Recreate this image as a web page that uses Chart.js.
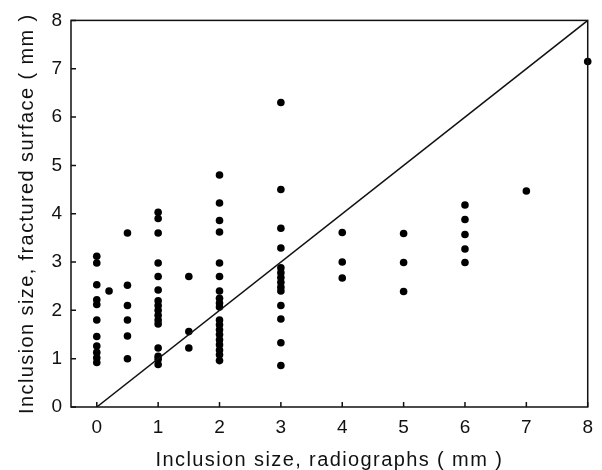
<!DOCTYPE html>
<html>
<head>
<meta charset="utf-8">
<script src="https://cdn.jsdelivr.net/npm/chart.js@4"></script>
<style>
  body { margin: 0; background: #fff; }
</style>
</head>
<body>
<canvas id="chart" width="602" height="470"></canvas>
<script>
// Du lieu doc tu hinh
const pointsX = [
    0, 0, 0, 0, 0, 0, 0, 0, 0, 0, 0,
    0.2,
    0.5, 0.5, 0.5, 0.5, 0.5, 0.5,
    1, 1, 1, 1, 1, 1, 1, 1, 1, 1, 1, 1, 1, 1, 1, 1,
    1.5, 1.5, 1.5,
    2, 2, 2, 2, 2, 2, 2, 2, 2, 2, 2, 2, 2, 2, 2, 2, 2, 2, 2,
    3, 3, 3, 3, 3, 3, 3, 3, 3, 3, 3, 3, 3, 3,
    4, 4, 4,
    5, 5, 5,
    6, 6, 6, 6, 6,
    7,
    8
];
const pointsY = [
    3.12, 2.98, 2.53, 2.22, 2.12, 1.8, 1.46, 1.26, 1.13, 1.02, 0.92,
    2.4,
    3.6, 2.52, 2.1, 1.8, 1.47, 1.0,
    4.03, 3.9, 3.6, 2.98, 2.7, 2.42, 2.2, 2.1, 2.0, 1.9, 1.8, 1.72, 1.22, 1.05, 0.99, 0.88,
    2.7, 1.56, 1.22,
    4.8, 4.22, 3.86, 3.62, 2.98, 2.7, 2.4, 2.25, 2.15, 2.07, 1.8, 1.7, 1.6, 1.5, 1.39, 1.29, 1.18, 1.08, 0.96,
    6.3, 4.5, 3.7, 3.29, 2.88, 2.78, 2.68, 2.58, 2.48, 2.4, 2.1, 1.82, 1.33, 0.86,
    3.61, 3.0, 2.67,
    3.59, 2.99, 2.39,
    4.18, 3.88, 3.57, 3.27, 2.99,
    4.47,
    7.15
];
// Duong y = x
const lineX = [0, 8];
const lineY = [0, 8];

const xTicks = [0, 1, 2, 3, 4, 5, 6, 7, 8];
const yTicks = [0, 1, 2, 3, 4, 5, 6, 7, 8];

const xTitle = 'Inclusion size, radiographs ( mm )';
const yTitle = 'Inclusion size, fractured surface ( mm )';

const fontName = '"Liberation Sans", Arial, Helvetica, sans-serif';

// Khung va vach chia huong vao trong
const framePlugin = {
    id: 'framePlugin',
    beforeDraw(chart) {
        chart.ctx.letterSpacing = '1.4px';
    },
    afterDatasetsDraw(chart) {
        const { ctx, chartArea: a, scales } = chart;
        ctx.save();
        ctx.strokeStyle = '#111';
        ctx.lineWidth = 1.5;
        ctx.strokeRect(a.left, a.top, a.right - a.left, a.bottom - a.top);
        ctx.beginPath();
        xTicks.forEach(v => {
            const px = scales.x.getPixelForValue(v);
            ctx.moveTo(px, a.bottom);
            ctx.lineTo(px, a.bottom - 5);
        });
        yTicks.forEach(v => {
            const py = scales.y.getPixelForValue(v);
            ctx.moveTo(a.left, py);
            ctx.lineTo(a.left + 5, py);
        });
        ctx.stroke();
        ctx.restore();
        ctx.letterSpacing = '0px';
    }
};

const scatterData = pointsX.map((x, i) => ({ x: x, y: pointsY[i] }));
const lineData = lineX.map((x, i) => ({ x: x, y: lineY[i] }));

const config = {
    type: 'scatter',
    data: {
        datasets: [
            {
                label: 'fit',
                data: lineData,
                showLine: true,
                borderColor: '#111',
                borderWidth: 1.5,
                pointRadius: 0,
                fill: false
            },
            {
                label: 'data',
                data: scatterData,
                backgroundColor: '#000',
                borderWidth: 0,
                pointRadius: 3.8,
                clip: false
            }
        ]
    },
    options: {
        responsive: false,
        animation: false,
        events: [],
        layout: {
            padding: { top: 16, right: 11, left: 0, bottom: 0 }
        },
        plugins: {
            legend: { display: false },
            tooltip: { enabled: false }
        },
        scales: {
            x: {
                type: 'linear',
                min: -0.42,
                max: 8,
                afterBuildTicks: scale => { scale.ticks = xTicks.map(v => ({ value: v })); },
                afterFit: scale => { scale.height = 63; },
                grid: { display: false, drawTicks: false },
                border: { display: false },
                ticks: {
                    z: 1,
                    padding: 9,
                    color: '#111',
                    maxRotation: 0,
                    font: { family: fontName, size: 19 },
                    callback: v => String(v)
                },
                title: {
                    display: true,
                    text: xTitle,
                    color: '#111',
                    padding: { top: 0, bottom: 0 },
                    font: { family: fontName, size: 20, lineHeight: 1 }
                }
            },
            y: {
                type: 'linear',
                min: 0,
                max: 8,
                afterBuildTicks: scale => { scale.ticks = yTicks.map(v => ({ value: v })); },
                afterFit: scale => { scale.width = 71; },
                grid: { display: false, drawTicks: false },
                border: { display: false },
                ticks: {
                    z: 1,
                    padding: 9,
                    color: '#111',
                    font: { family: fontName, size: 19 },
                    callback: v => String(v)
                },
                title: {
                    display: true,
                    text: yTitle,
                    color: '#111',
                    padding: { top: 17, bottom: 0 },
                    font: { family: fontName, size: 20, lineHeight: 1 }
                }
            }
        }
    },
    plugins: [framePlugin]
};

const chart = new Chart(document.getElementById('chart'), config);
</script>
</body>
</html>
